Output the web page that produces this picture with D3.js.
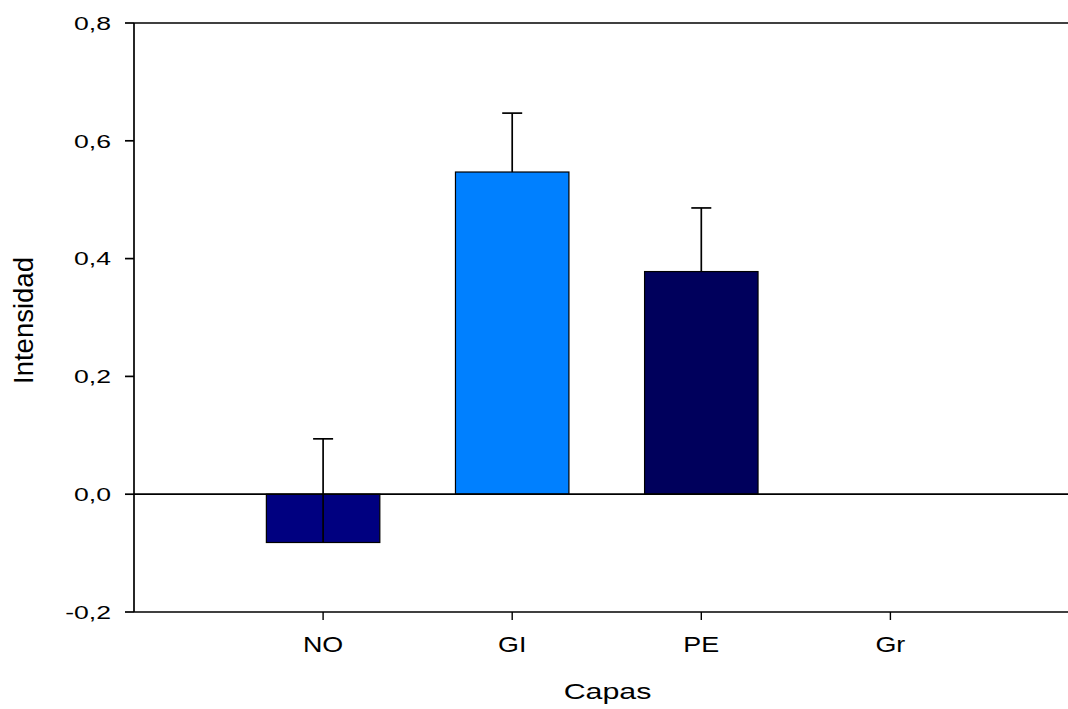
<!DOCTYPE html>
<html>
<head>
<meta charset="utf-8">
<script src="https://cdn.jsdelivr.net/npm/d3@7"></script>
<style>
html,body{margin:0;padding:0;background:#fff;}
svg{display:block;}
text{font-family:"Liberation Sans",Arial,sans-serif;fill:#000;}
</style>
</head>
<body>
<svg id="chart" width="1068" height="709"></svg>
<script>
const categories = ["NO", "GI", "PE", "Gr"];
const values = [-0.082, 0.547, 0.378, 0];
const errors = [0.176, 0.100, 0.108, 0];
const colors = ["#000080", "#0080FF", "#00005C", "#000080"];
const yTicks = [-0.2, 0.0, 0.2, 0.4, 0.6, 0.8];
const yTickLabels = ["-0,2", "0,0", "0,2", "0,4", "0,6", "0,8"];

(function () {
const svg = d3.select("#chart");
const mLeft = 134, mTop = 23, mBottom = 612;
const x = d3.scaleLinear().domain([0, 5]).range([mLeft, mLeft + 5 * 189.1]);
const y = d3.scaleLinear().domain([-0.2, 0.8]).range([mBottom, mTop]);
const barW = x(0.6) - x(0);
const W = 1068;

// frame lines
svg.append("line").attr("x1", mLeft).attr("x2", mLeft).attr("y1", mTop).attr("y2", mBottom)
  .attr("stroke", "#000").attr("stroke-width", 1.7);
svg.append("line").attr("x1", mLeft).attr("x2", W).attr("y1", y(0.8)).attr("y2", y(0.8))
  .attr("stroke", "#000").attr("stroke-width", 1.7);
svg.append("line").attr("x1", mLeft).attr("x2", W).attr("y1", y(-0.2)).attr("y2", y(-0.2))
  .attr("stroke", "#000").attr("stroke-width", 1.7);

// y axis ticks and labels
const yg = svg.append("g");
yTicks.forEach((t, i) => {
  yg.append("line").attr("x1", mLeft - 9).attr("x2", mLeft).attr("y1", y(t)).attr("y2", y(t))
    .attr("stroke", "#000").attr("stroke-width", 1.7);
  yg.append("text")
    .attr("transform", `translate(111,${y(t) + 6.8}) scale(1.4,1)`)
    .attr("text-anchor", "end").attr("font-size", 19)
    .text(yTickLabels[i]);
});

// bars
svg.selectAll("rect.bar").data(categories.slice(0, 3)).enter().append("rect")
  .attr("class", "bar")
  .attr("x", (d, i) => x(i + 1) - barW / 2)
  .attr("width", barW)
  .attr("y", (d, i) => y(Math.max(0, values[i])))
  .attr("height", (d, i) => Math.abs(y(values[i]) - y(0)))
  .attr("fill", (d, i) => colors[i])
  .attr("stroke", "#000").attr("stroke-width", 1.2);

// zero line
svg.append("line").attr("x1", mLeft).attr("x2", W).attr("y1", y(0)).attr("y2", y(0))
  .attr("stroke", "#000").attr("stroke-width", 1.7);

// error bars
categories.forEach((c, i) => {
  if (!errors[i]) return;
  const cx = x(i + 1);
  svg.append("line").attr("x1", cx).attr("x2", cx)
    .attr("y1", y(values[i])).attr("y2", y(values[i] + errors[i]))
    .attr("stroke", "#000").attr("stroke-width", 1.7);
  svg.append("line").attr("x1", cx - 10).attr("x2", cx + 10)
    .attr("y1", y(values[i] + errors[i])).attr("y2", y(values[i] + errors[i]))
    .attr("stroke", "#000").attr("stroke-width", 1.7);
});

// x ticks and labels
categories.forEach((c, i) => {
  const cx = x(i + 1);
  svg.append("line").attr("x1", cx).attr("x2", cx).attr("y1", mBottom).attr("y2", mBottom + 8)
    .attr("stroke", "#000").attr("stroke-width", 1.4);
  svg.append("text")
    .attr("transform", `translate(${cx},652) scale(1.25,1)`)
    .attr("text-anchor", "middle").attr("font-size", 21.5)
    .text(c);
});

// axis titles
svg.append("text")
  .attr("transform", `translate(607.5,699) scale(1.38,1)`)
  .attr("text-anchor", "middle").attr("font-size", 22)
  .text("Capas");
svg.append("text")
  .attr("transform", `translate(33,320.5) rotate(-90)`)
  .attr("text-anchor", "middle").attr("font-size", 27.5)
  .text("Intensidad");
})();
</script>
</body>
</html>
